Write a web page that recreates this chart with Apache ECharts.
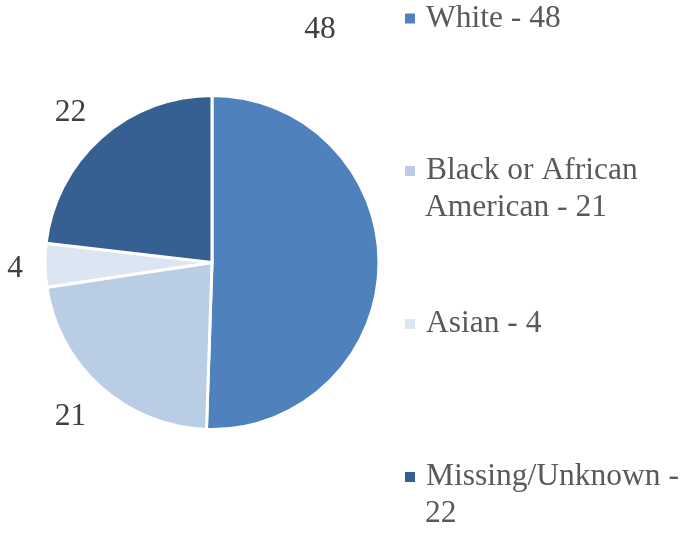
<!DOCTYPE html>
<html>
<head>
<meta charset="utf-8">
<script src="https://cdn.jsdelivr.net/npm/echarts@6/dist/echarts.min.js"></script>
<style>html,body{margin:0;padding:0;background:#fff}#c{width:683px;height:533px}</style>
</head>
<body>
<div id="c"></div>
<script>
var categories = ['White', 'Black or African American', 'Asian', 'Missing/Unknown'];
var values = [48, 21, 4, 22];
var colors = ['#4F81BD', '#B9CDE5', '#DCE6F2', '#376092'];
var legendLines = [['White - 48'], ['Black or African', 'American - 21'], ['Asian - 4'], ['Missing/Unknown -', '22']];

var CX = 212, CY = 262.5, R = 167;
var FONT = 'Liberation Serif, Times New Roman, serif';
var FS = 31.5, LH = 37;
var total = values.reduce(function (a, b) { return a + b; }, 0);

var legendCenters = [18.5, 171, 324, 477];
var LEG_X = 403, TEXT_X = 425;

var legends = categories.map(function (name, i) {
  return {
    show: true,
    orient: 'vertical',
    left: LEG_X,
    top: legendCenters[i] - LH / 2,
    padding: 0,
    icon: 'rect',
    itemWidth: 12,
    itemHeight: 12,
    selectedMode: false,
    data: [name],
    formatter: function () { return legendLines[i][0]; },
    textStyle: {
      fontFamily: FONT,
      fontSize: FS,
      lineHeight: LH,
      color: '#595959',
      padding: [0, 0, 0, 5]
    }
  };
});

// continuation lines of wrapped legend entries
var extraLines = [];
legendLines.forEach(function (lines, i) {
  for (var k = 1; k < lines.length; k++) {
    extraLines.push({
      type: 'text',
      left: TEXT_X,
      top: legendCenters[i] + k * LH - LH / 2,
      style: {
        text: lines[k],
        fontFamily: FONT,
        fontSize: FS,
        lineHeight: LH,
        fill: '#595959'
      }
    });
  }
});

var chart = echarts.init(document.getElementById('c'), null, { renderer: 'canvas' });
chart.setOption({
  animation: false,
  backgroundColor: '#ffffff',
  legend: legends,
  graphic: extraLines,
  series: [{
    type: 'pie',
    center: [CX, CY],
    radius: R,
    startAngle: 90,
    clockwise: true,
    avoidLabelOverlap: false,
    itemStyle: { borderColor: '#ffffff', borderWidth: 3 },
    label: {
      show: true,
      position: 'outside',
      formatter: '{c}',
      fontFamily: FONT,
      fontSize: FS,
      color: '#404040'
    },
    labelLine: { show: false },
    labelLayout: function (p) {
      var i = p.dataIndex;
      if (i === 0) {
        return { x: 320, y: 30, align: 'center', verticalAlign: 'middle' };
      }
      var before = 0;
      for (var k = 0; k < i; k++) before += values[k];
      var mid = (before + values[i] / 2) / total * 2 * Math.PI;
      var dx = Math.sin(mid), dy = -Math.cos(mid);
      var w = String(values[i]).length * FS * 0.5, h = 22;
      var D = 189;
      var sx = dx < 0 ? -1 : 1, sy = dy < 0 ? -1 : 1;
      var x = CX + dx * D + sx * (w / 2) * Math.min(1, Math.abs(dx) / 0.5);
      var y = CY + dy * D + sy * (h / 2) * Math.min(1, Math.abs(dy) / 0.5) + 2.5;
      return { x: x, y: y, align: 'center', verticalAlign: 'middle' };
    },
    data: categories.map(function (c, i) {
      return { name: c, value: values[i], itemStyle: { color: colors[i] } };
    })
  }]
});
</script>
</body>
</html>
